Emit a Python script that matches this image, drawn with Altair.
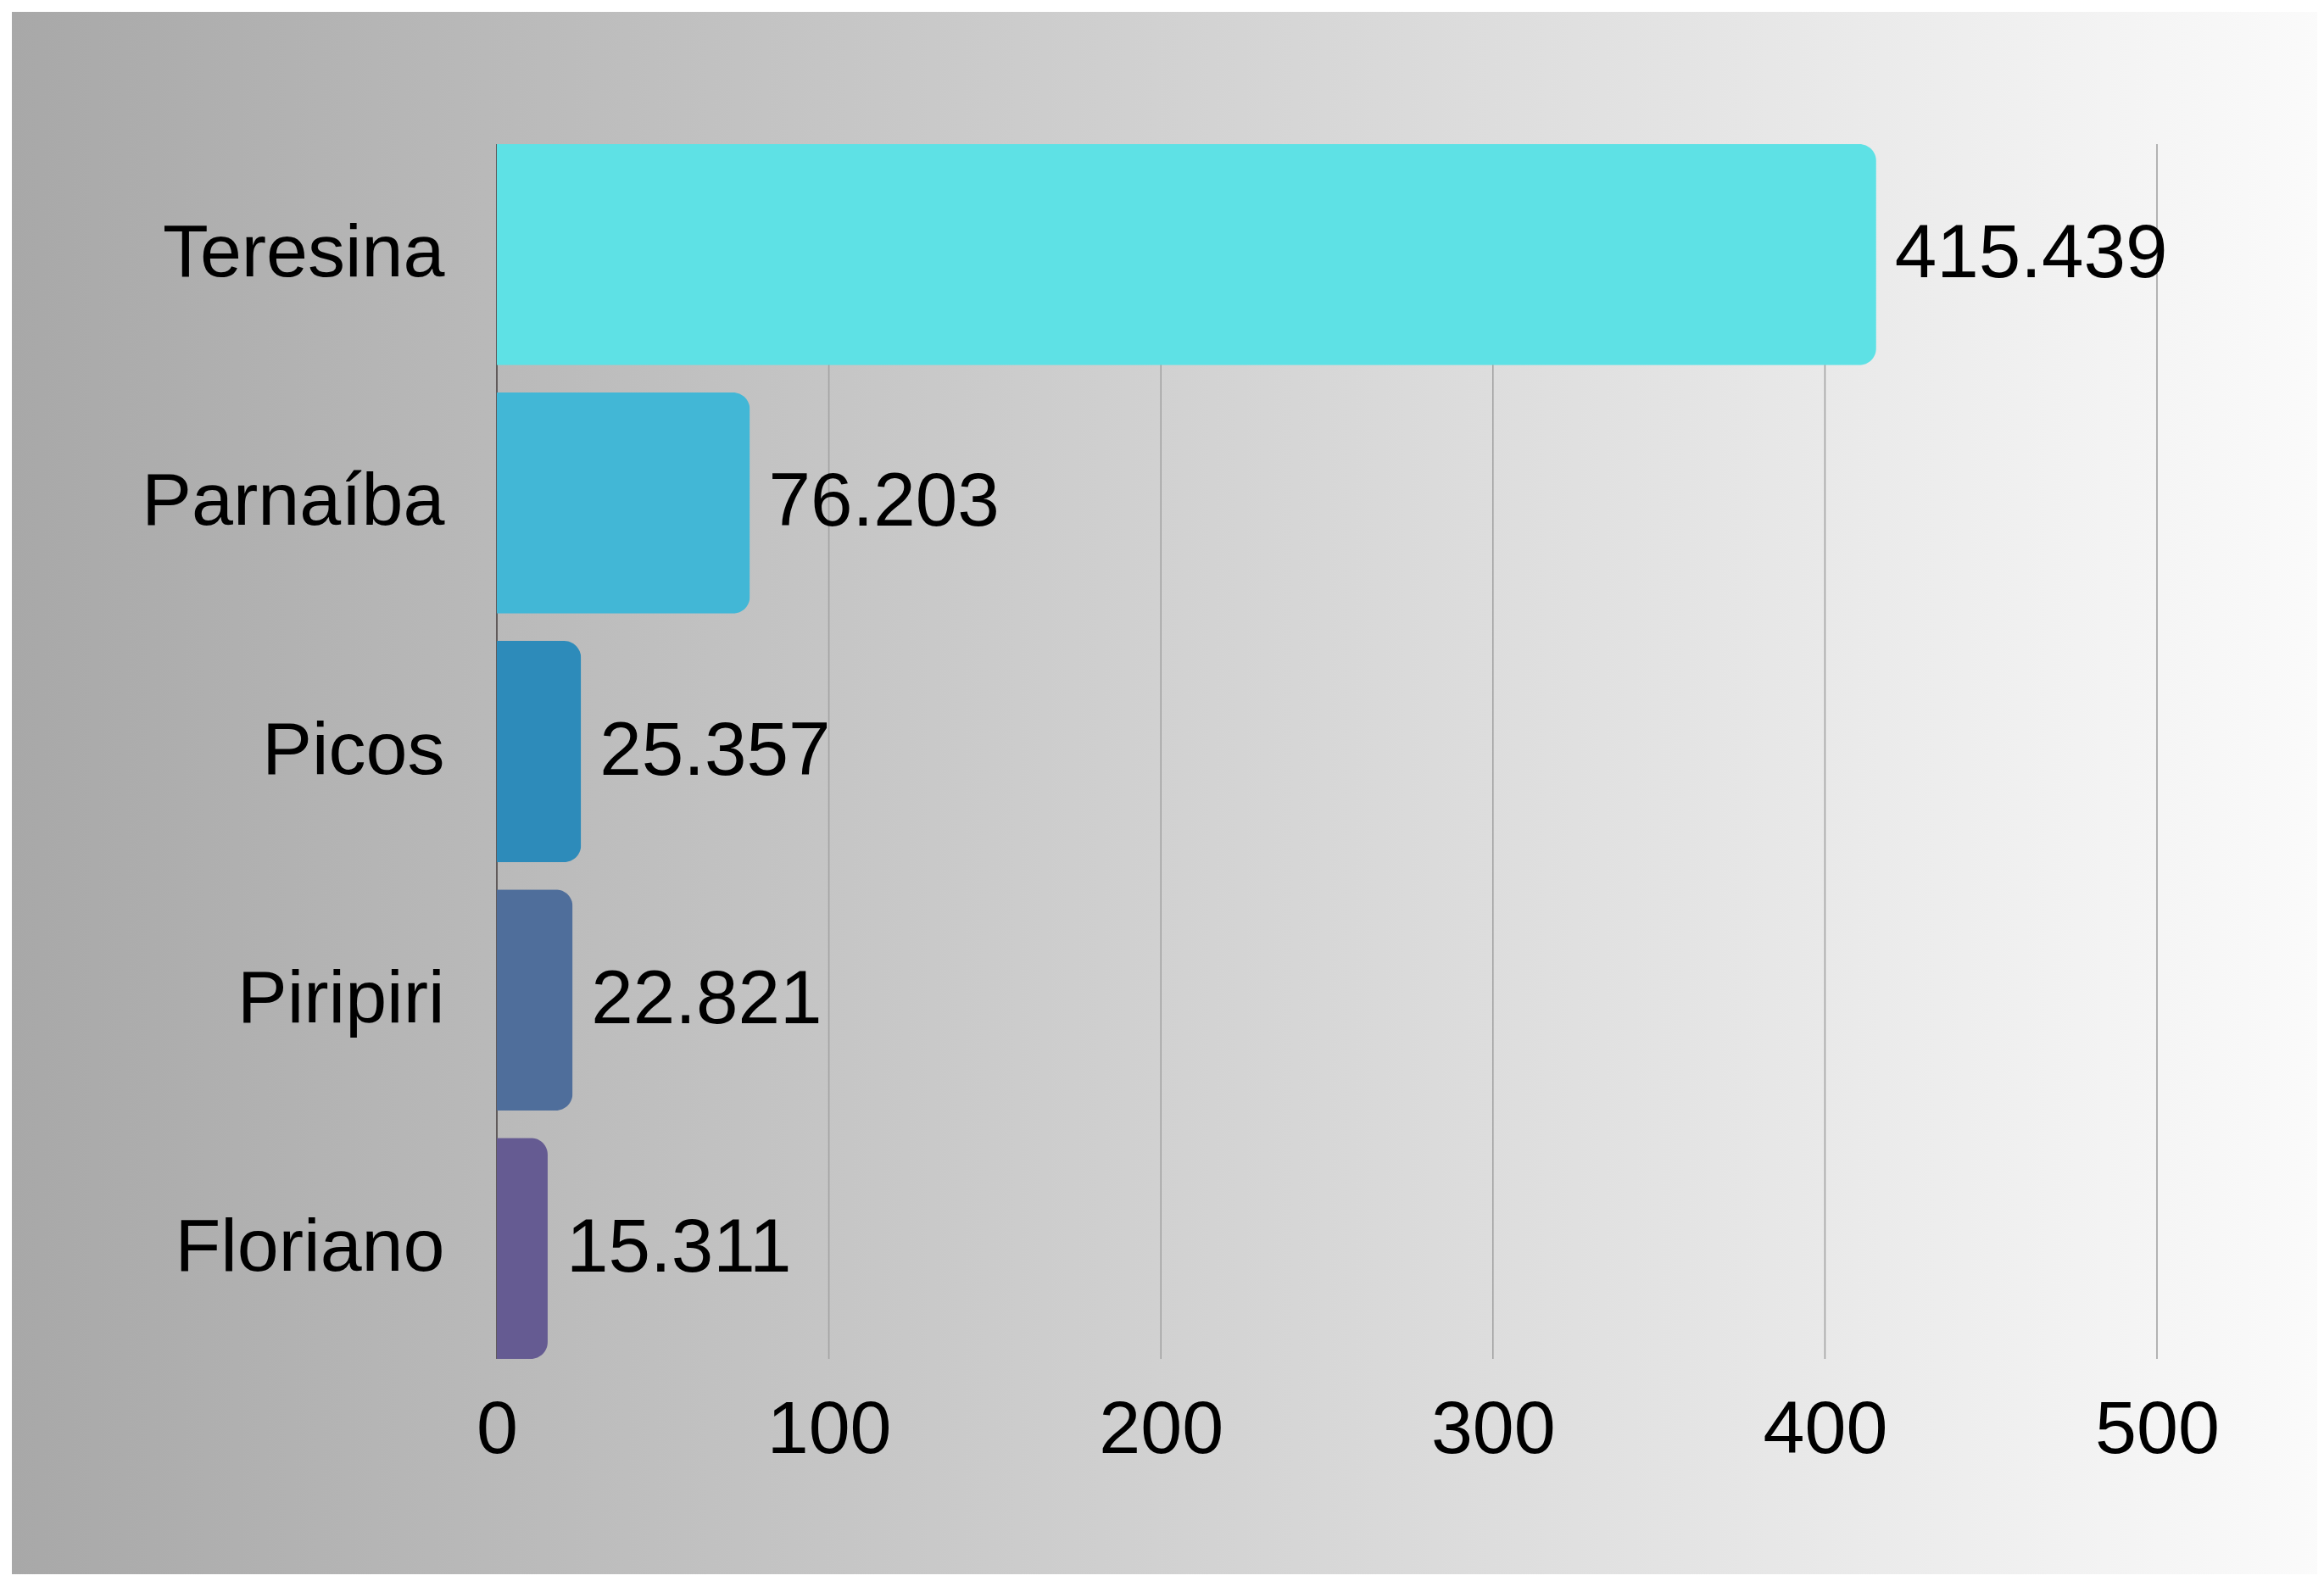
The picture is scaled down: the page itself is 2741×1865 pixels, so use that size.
import altair as alt
import pandas as pd

cities = ["Teresina", "Parnaíba", "Picos", "Piripiri", "Floriano"]
values = [415.439, 76.203, 25.357, 22.821, 15.311]
colors = ["#5ee1e5", "#42b7d6", "#2d8bba", "#4f6e9b", "#655b92"]
ticks = [0, 100, 200, 300, 400, 500]

df = pd.DataFrame({"city": cities, "value": values, "color": colors})
grid_df = pd.DataFrame({"t": ticks})

FONT = "Liberation Sans"
W, H = 1958, 1433

xscale = alt.Scale(domain=[0, 500], nice=False, zero=True)
yscale = alt.Scale(domain=cities, paddingInner=0.11, paddingOuter=0)

xaxis = alt.Axis(values=ticks, grid=False, domain=False, ticks=False, tickSize=0,
                 labelFont=FONT, labelFontSize=88, labelColor="#000000",
                 labelPadding=40, title=None, zindex=1, labelFlush=False)
yaxis = alt.Axis(grid=False, domain=False, ticks=False, tickSize=0,
                 labelFont=FONT, labelFontSize=88, labelColor="#000000",
                 labelPadding=62, title=None, zindex=1, labelLimit=0)

bg = alt.Chart(alt.Data(values=[{"a": 1}])).mark_rect(
    color=alt.LinearGradient(
        gradient="linear",
        x1=0, x2=1, y1=0, y2=0,
        stops=[alt.GradientStop(offset=0, color="#a8a8a8"),
               alt.GradientStop(offset=1, color="#fbfbfb")],
    )
).encode(
    x=alt.value(-572), x2=alt.value(2160), y=alt.value(-156), y2=alt.value(1710)
)

grid = alt.Chart(grid_df).transform_filter("datum.t > 0").mark_rule(
    color="#a3a3a3", strokeWidth=1.6
).encode(
    x=alt.X("t:Q", scale=xscale, axis=xaxis),
    y=alt.value(0), y2=alt.value(H),
)

zero_line = alt.Chart(grid_df).transform_filter("datum.t == 0").mark_rule(
    color="#4a4343", strokeWidth=1.6
).encode(
    x=alt.X("t:Q", scale=xscale, axis=xaxis),
    y=alt.value(0), y2=alt.value(H),
)

bars = alt.Chart(df).mark_bar(cornerRadiusEnd=20).encode(
    x=alt.X("value:Q", scale=xscale, axis=xaxis),
    y=alt.Y("city:N", scale=yscale, sort=cities, axis=yaxis),
    color=alt.Color("color:N", scale=None),
)

labels = alt.Chart(df).mark_text(
    align="left", baseline="middle", dx=22, font=FONT, fontSize=89, color="#000000"
).encode(
    x=alt.X("value:Q", scale=xscale, axis=xaxis),
    y=alt.Y("city:N", scale=yscale, sort=cities, axis=yaxis),
    text=alt.Text("value:Q", format=".3f"),
)

chart = alt.layer(bg, grid, zero_line, bars, labels).properties(
    width=W, height=H,
    autosize=alt.AutoSizeParams(type="none"),
    padding={"left": 578, "top": 162, "right": 189, "bottom": 254},
    background="#ffffff",
).configure_view(stroke=None)

chart.save("out.html", embed_options={"renderer": "svg", "actions": False})
